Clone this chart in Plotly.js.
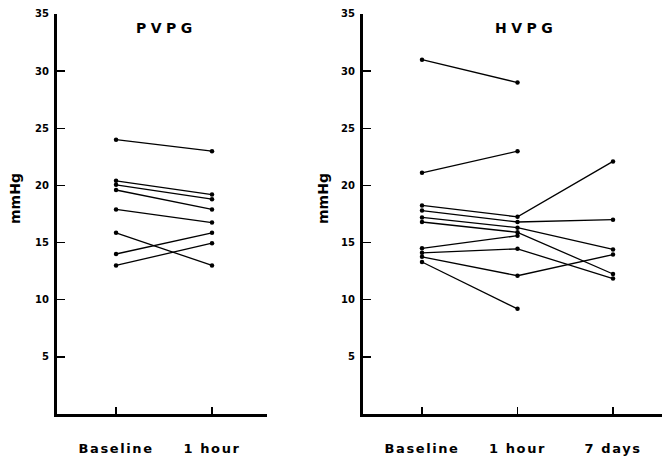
<!DOCTYPE html>
<html>
<head>
<meta charset="utf-8">
<script src="https://cdn.plot.ly/plotly-3.0.1.min.js"></script>
<style>html,body{margin:0;padding:0;background:#fff;}#chart{width:663px;height:456px;}</style>
</head>
<body>
<div id="chart"></div>
<script>
// ---- data ----
const pvpgTimes = ["Baseline", "1 hour"];
const pvpgBaseline = [24, 20.4, 20.05, 19.6, 17.9, 15.85, 14.0, 13.0];
const pvpgOneHour  = [23, 19.2, 18.8, 17.9, 16.75, 13.0, 15.85, 14.95];

const hvpgTimes = ["Baseline", "1 hour", "7 days"];
const hvpgBaseline = [31, 21.1, 18.25, 17.8, 17.2, 16.8, 14.5, 14.1, 13.75, 13.3];
const hvpgOneHour  = [29, 23, 17.25, 16.8, 16.3, 15.9, 15.6, 14.45, 12.1, 9.2];
const hvpgSevenDay = [null, null, 22.1, 17.0, 14.4, 12.25, null, 11.85, 13.95, null];

const yTicks = [5, 10, 15, 20, 25, 30, 35];
const yTitle = "mmHg";
const panelTitles = ["PVPG", "HVPG"];

// ---- traces ----
const traces = [];
const lineStyle = {color: "#000", width: 1.3};
const markerStyle = {color: "#000", size: 4.5};
pvpgBaseline.forEach((b, i) => {
  traces.push({type: "scatter", mode: "lines+markers", x: pvpgTimes, y: [b, pvpgOneHour[i]],
    xaxis: "x", yaxis: "y", line: lineStyle, marker: markerStyle, showlegend: false, hoverinfo: "y"});
});
hvpgBaseline.forEach((b, i) => {
  traces.push({type: "scatter", mode: "lines+markers", x: hvpgTimes, y: [b, hvpgOneHour[i], hvpgSevenDay[i]],
    xaxis: "x2", yaxis: "y2", line: lineStyle, marker: markerStyle, showlegend: false, hoverinfo: "y",
    connectgaps: false});
});

const sp = (t, ls) => '<span style="letter-spacing:' + ls + 'px">' + t + '</span>';
const tickFont = {family: "DejaVu Sans", size: 10, color: "#000", weight: "bold"};
const catFont = {family: "DejaVu Sans", size: 13, color: "#000", weight: "bold"};

const yAxisBase = {
  range: [0, 35], tickvals: yTicks, ticktext: yTicks.map(String), ticks: "inside", ticklen: 8, tickwidth: 1.5,
  tickcolor: "#000", showline: true, linecolor: "#000", linewidth: 3, showgrid: false, zeroline: false,
  tickfont: tickFont, ticklabelstandoff: 3, domain: [0.0921, 0.9693], fixedrange: true
};
const xAxisBase = {
  type: "category", ticks: "inside", ticklen: 7, tickwidth: 1.5, tickcolor: "#000",
  showline: true, linecolor: "#000", linewidth: 2.5, showgrid: false, zeroline: false,
  tickfont: catFont, ticklabelstandoff: 21, fixedrange: true
};

const layout = {
  width: 663, height: 456,
  margin: {l: 0, r: 0, t: 0, b: 0},
  paper_bgcolor: "#fff", plot_bgcolor: "#fff",
  showlegend: false,
  xaxis: Object.assign({}, xAxisBase, {domain: [0.0860, 0.4027], range: [-0.615, 1.573],
    tickvals: pvpgTimes, ticktext: pvpgTimes.map(t => sp(t, 1.6)), anchor: "y"}),
  yaxis: Object.assign({}, yAxisBase, {anchor: "x"}),
  xaxis2: Object.assign({}, xAxisBase, {domain: [0.5475, 0.9985], range: [-0.618, 2.513],
    tickvals: hvpgTimes, ticktext: hvpgTimes.map(t => sp(t, 1.6)), anchor: "y2"}),
  yaxis2: Object.assign({}, yAxisBase, {anchor: "x2"}),
  annotations: [
    {text: sp(panelTitles[0], 4.5), x: 0.2511, y: 0.9386, xref: "paper", yref: "paper", showarrow: false,
     xanchor: "center", yanchor: "middle", font: {family: "DejaVu Sans", size: 14, color: "#000", weight: "bold"}},
    {text: sp(panelTitles[1], 4.5), x: 0.7934, y: 0.9386, xref: "paper", yref: "paper", showarrow: false,
     xanchor: "center", yanchor: "middle", font: {family: "DejaVu Sans", size: 14, color: "#000", weight: "bold"}},
    {text: yTitle, x: 15 / 663, y: 0.5636, xref: "paper", yref: "paper", showarrow: false, textangle: -90,
     xanchor: "center", yanchor: "middle", font: {family: "DejaVu Sans", size: 14, color: "#000", weight: "bold"}},
    {text: yTitle, x: 323 / 663, y: 0.5636, xref: "paper", yref: "paper", showarrow: false, textangle: -90,
     xanchor: "center", yanchor: "middle", font: {family: "DejaVu Sans", size: 14, color: "#000", weight: "bold"}}
  ]
};

Plotly.newPlot("chart", traces, layout, {displayModeBar: false, staticPlot: true});
</script>
</body>
</html>
